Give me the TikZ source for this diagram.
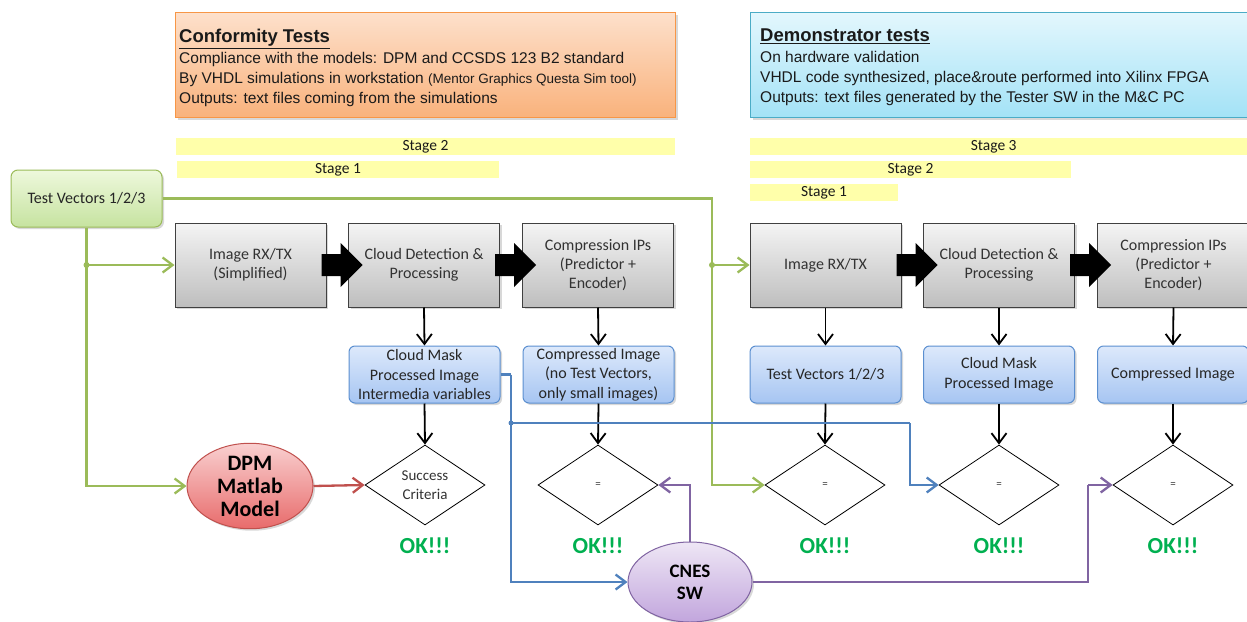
\documentclass[tikz,border=0pt]{standalone}
\usepackage{fontspec}
\setmainfont{Liberation Sans}
\newfontfamily\calib{Carlito}
\usetikzlibrary{shapes.geometric,arrows.meta,shadows,calc}
\definecolor{orbord}{HTML}{F79646}
\definecolor{ortop}{HTML}{FDE0CB}
\definecolor{orbot}{HTML}{F9B27C}
\definecolor{cybord}{HTML}{4BACC6}
\definecolor{cytop}{HTML}{E3F7FD}
\definecolor{cybot}{HTML}{A3E2F6}
\definecolor{ybar}{HTML}{FFFFAA}
\definecolor{gnbord}{HTML}{9BBB59}
\definecolor{gntop}{HTML}{EEF8DC}
\definecolor{gnbot}{HTML}{C6E3A0}
\definecolor{gytop}{HTML}{F4F4F4}
\definecolor{gybot}{HTML}{BEBEBE}
\definecolor{blbord}{HTML}{5B8FD0}
\definecolor{bltop}{HTML}{DDE9FB}
\definecolor{blbot}{HTML}{A6C5F2}
\definecolor{blline}{HTML}{4F81BD}
\definecolor{ppline}{HTML}{8064A2}
\definecolor{rdline}{HTML}{C0504D}
\definecolor{rdtop}{HTML}{F9D0D0}
\definecolor{rdbot}{HTML}{E86B6B}
\definecolor{pptop}{HTML}{EEE6F5}
\definecolor{ppbot}{HTML}{C2A6DD}
\definecolor{okgreen}{HTML}{00B050}
\definecolor{txt}{HTML}{1A1A1A}
\tikzset{
  x=1pt, y=-1pt,
  shad/.style={drop shadow={opacity=0.3,shadow xshift=2pt,shadow yshift=-2pt}},
  hdrbox/.style={rectangle, minimum height=105, anchor=north west, shad},
  hdrtxt/.style={inner sep=0pt, align=left, anchor=north west, text=txt, font=\fontsize{15.5}{20}\selectfont},
  stagebar/.style={rectangle, fill=ybar, minimum height=17, inner sep=0pt, font=\calib\fontsize{15.5}{15.5}\selectfont, text=txt},
  graybox/.style={rectangle, draw=black!75, line width=1pt, top color=gytop, bottom color=gybot, minimum width=151, minimum height=84, inner sep=2pt, align=center, font=\calib\fontsize{16}{19}\selectfont, text=black!80, shad},
  bluebox/.style={rectangle, rounded corners=6pt, draw=blbord, line width=1pt, top color=bltop, bottom color=blbot, minimum width=151, minimum height=57, inner sep=2pt, align=center, font=\calib\fontsize{16}{19.5}\selectfont, text=black!85, shad},
  tvbox/.style={rectangle, rounded corners=7pt, draw=gnbord, line width=1pt, top color=gntop, bottom color=gnbot, minimum width=151, minimum height=57, align=center, font=\calib\fontsize{16}{19}\selectfont, text=black!85, shad},
  dia/.style={diamond, draw=black, line width=0.8pt, fill=white, aspect=1.5, minimum width=120, minimum height=80, inner sep=0pt, align=center, font=\calib\fontsize{15}{19}\selectfont, text=black!80},
  eqdia/.style={dia, font=\calib\fontsize{11}{11}\selectfont},
  oktext/.style={font=\calib\bfseries\fontsize{23}{23}\selectfont, text=okgreen},
  ell/.style={ellipse, line width=1pt, inner sep=0pt, align=center, text=black, shad},
  arr/.style={-{Straight Barb[length=10pt,width=15pt]}},
  blk/.style={line width=1.8pt, black, arr},
  gl/.style={line width=2.3pt, gnbord},
  bl/.style={line width=2.3pt, blline},
  pl/.style={line width=2.3pt, ppline},
  rl/.style={line width=2.3pt, rdline},
  jdot/.style={circle, inner sep=0pt, minimum size=6pt},
}
\begin{document}
\begin{tikzpicture}
\useasboundingbox (0,0) rectangle (1247,621);
\fill[white] (0,0) rectangle (1247,621);

% header boxes
\node[hdrbox, draw=orbord, line width=1pt, top color=ortop, bottom color=orbot, minimum width=500] (conf) at (175,12) {};
\node[hdrtxt] (conftxt) at (179,29)
 {{\bfseries\fontsize{18.5}{20}\selectfont\underline{Conformity Tests}}\\[1pt]
  Compliance with the models: DPM and CCSDS 123 B2 standard\\
  By VHDL simulations in workstation {\fontsize{13.5}{20}\selectfont(Mentor Graphics Questa Sim tool)}\\
  Outputs: text files coming from the simulations};
\node[hdrbox, draw=cybord, line width=1pt, top color=cytop, bottom color=cybot, minimum width=505] (demo) at (750,12) {};
\node[hdrtxt] (demotxt) at (760,29)
 {{\bfseries\fontsize{18.5}{20}\selectfont\underline{Demonstrator tests}}\\[1pt]
  On hardware validation\\
  VHDL code synthesized, place\&route performed into Xilinx FPGA\\
  Outputs: text files generated by the Tester SW in the M\&C PC};

% stage bars
\node[stagebar, minimum width=499] (ls2) at (425.5,146.5) {Stage 2};
\node[stagebar, minimum width=322] (ls1) at (338,169.5) {Stage 1};
\node[stagebar, minimum width=497, anchor=west] (rs3) at (750,146.5) {\hspace*{-10pt}Stage 3};
\node[stagebar, minimum width=321] (rs2) at (910.5,169.5) {Stage 2};
\node[stagebar, minimum width=148] (rs1) at (824,192.5) {Stage 1};

% test vectors
\node[tvbox] (tv) at (86.5,198.5) {Test Vectors 1/2/3};

% gray processing boxes
\node[graybox] (img1) at (250.5,265) {Image RX/TX\\(Simplified)};
\node[graybox] (cd1) at (424,265) {Cloud Detection \&\\Processing};
\node[graybox] (cp1) at (598,265) {Compression IPs\\(Predictor +\\Encoder)};
\node[graybox] (img2) at (825.5,265) {Image RX/TX};
\node[graybox] (cd2) at (999,265) {Cloud Detection \&\\Processing};
\node[graybox, minimum width=153] (cp2) at (1173.5,265) {Compression IPs\\(Predictor +\\Encoder)};

% block arrows
\foreach \a/\b in {img1/cd1, cd1/cp1, img2/cd2, cd2/cp2}{
  \fill[black] (\a.east) ++(-5,11) -- ++(19,0) -- ++(0,11) -- ++(22,-22) -- ++(-22,-22) -- ++(0,11) -- ++(-19,0) -- cycle;
}

% blue result boxes
\node[bluebox] (r1) at (424.5,374.5) {Cloud Mask\\Processed Image\\Intermedia variables};
\node[bluebox] (r2) at (598.5,374.5) {Compressed Image\\(no Test Vectors,\\only small images)};
\node[bluebox] (r3) at (825.5,374.5) {Test Vectors 1/2/3};
\node[bluebox] (r4) at (999,374.5) {Cloud Mask\\Processed Image};
\node[bluebox] (r5) at (1173,374.5) {Compressed Image};

% diamonds
\node[dia] (d1) at (425,485) {Success\\Criteria};
\node[eqdia] (d2) at (598,485) {=};
\node[eqdia] (d3) at (825,485) {=};
\node[eqdia] (d4) at (999,485) {=};
\node[eqdia] (d5) at (1173,485) {=};

% OK labels
\node[oktext] (ok1) at (425,546) {OK!!!};
\node[oktext] (ok2) at (598,546) {OK!!!};
\node[oktext] (ok3) at (825,546) {OK!!!};
\node[oktext] (ok4) at (999,546) {OK!!!};
\node[oktext] (ok5) at (1173,546) {OK!!!};

% ellipses
\node[ell, draw=rdline, top color=rdtop, bottom color=rdbot, minimum width=126, minimum height=84, font=\calib\bfseries\fontsize{22}{23}\selectfont] (dpm) at (250,486) {DPM\\Matlab\\Model};
\node[ell, draw=ppline, top color=pptop, bottom color=ppbot, minimum width=124, minimum height=80, font=\calib\bfseries\fontsize{19}{22}\selectfont] (cnes) at (690,582) {CNES\\SW};

% black arrows
\foreach \g/\r in {cd1/r1, cp1/r2, img2/r3, cd2/r4, cp2/r5}{
  \draw[blk] (\g.south) -- (\r.north);
}
\foreach \r/\d in {r1/d1, r2/d2, r3/d3, r4/d4, r5/d5}{
  \draw[blk] (\r.south) -- (\d.north);
}

% green connectors
\coordinate (j1) at (tv.south |- img1.west);
\coordinate (j2) at (712,265);
\draw[gl] (tv.east) -| (j2);
\draw[gl, arr] (j2) -- (img2.west);
\draw[gl, arr] (j2) |- (d3.west);
\draw[gl, arr] (tv.south) |- (dpm.west);
\draw[gl, arr] (j1) -- (img1.west);
\node[jdot, fill=gnbord] (jd1) at (j1) {};
\node[jdot, fill=gnbord] (jd2) at (j2) {};

% red connector
\draw[rl, arr] (dpm.east) -- (d1.west);

% blue connectors
\coordinate (b1) at (511,374.5);
\coordinate (bj) at (511,423);
\coordinate (bk) at (910,423);
\draw[bl] (r1.east) -- (b1);
\draw[bl, arr] (b1) |- (cnes.west);
\draw[bl] (bj) -- (bk);
\draw[bl, arr] (bk) |- (d4.west);
\node[jdot, fill=blline, minimum size=5pt] (bjd) at (bj) {};

% purple connectors
\coordinate (pk) at (1088,485);
\draw[pl, arr] (cnes.north) |- (d2.east);
\draw[pl] (cnes.east) -| (pk);
\draw[pl, arr] (pk) -- (d5.west);
\end{tikzpicture}
\end{document}
